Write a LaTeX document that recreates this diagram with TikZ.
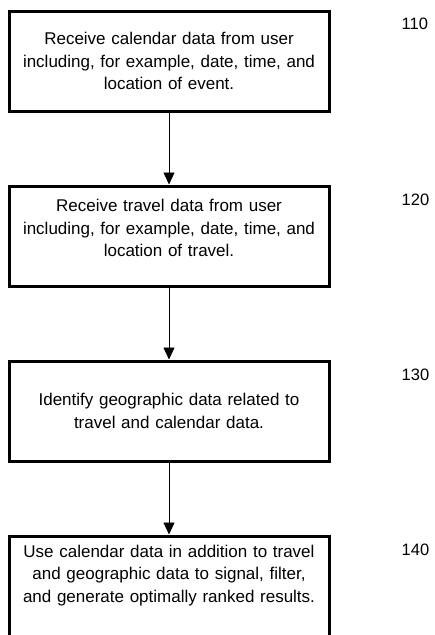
\documentclass[tikz,border=0pt]{standalone}
\usepackage{fontspec}
\setmainfont{Liberation Sans}
\usetikzlibrary{positioning,arrows.meta}

\begin{document}
\begin{tikzpicture}[x=1pt,y=-1pt,
    stepbox/.style={draw,line width=3pt,minimum width=320pt,minimum height=100pt,
        text width=310pt,align=center,inner sep=0pt,
        font=\fontsize{17}{22.5}\selectfont},
    lifted/.style={text depth=#1},
    flow/.style={thick,-{Triangle[length=12pt,width=11pt]}},
    refnum/.style={anchor=west,inner sep=0pt,font=\fontsize{16.5}{20}\selectfont},
    node distance=72pt]
    %page
    \clip (0,0) rectangle (435,635);

    %boxes
    \node[stepbox] (b110) at (169,61) {Receive calendar data from user\\
        including, for example, date, time, and\\ location of event.};
    \node[stepbox,lifted=61pt,below=of b110] (b120) {Receive travel data from user\\
        including, for example, date, time, and\\ location of travel.};
    \node[stepbox,below=of b120] (b130) {Identify geographic data related to\\
        travel and calendar data.};
    \node[stepbox,lifted=70pt,below=of b130] (b140) {Use calendar data in addition to travel\\
        and geographic data to signal, filter,\\ and generate optimally ranked results.};

    %arrows
    \draw[flow] (b110) -- (b120);
    \draw[flow] (b120) -- (b130);
    \draw[flow] (b130) -- (b140);

    %reference numbers
    \node[refnum] (n110) at ([xshift=71pt,yshift=-14pt] b110.north east) {110};
    \node[refnum] (n120) at ([xshift=71pt,yshift=-15pt] b120.north east) {120};
    \node[refnum] (n130) at ([xshift=71pt,yshift=-15pt] b130.north east) {130};
    \node[refnum] (n140) at ([xshift=71pt,yshift=-15pt] b140.north east) {140};
\end{tikzpicture}
\end{document}
